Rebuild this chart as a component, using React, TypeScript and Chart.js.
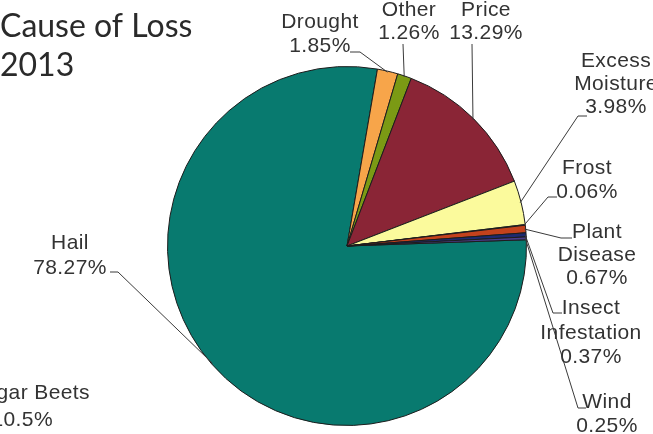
import React, { useEffect, useRef } from 'react';
import { Chart, registerables } from 'chart.js';

Chart.register(...registerables);

// ---- data ----
const categories = ['Hail', 'Drought', 'Other', 'Price', 'Excess Moisture', 'Frost', 'Plant Disease', 'Insect Infestation', 'Wind'];
const shares = [78.27, 1.85, 1.26, 13.29, 3.98, 0.06, 0.67, 0.37, 0.25];
const sliceColors = ['#087a6f', '#f7a54a', '#7b9a14', '#8a2536', '#fbfa9c', '#b8d0e8', '#c4421c', '#1e2a70', '#4b3c8c'];
const titleLines = ['Cause of Loss', '2013'];
// label of a neighbouring chart, cut by the picture's left edge
const neighbourLines = ['Sugar Beets', '10.5%'];

// ---- label layout (text centre x, line centres y, leader elbow and end) ----
const labelLayout = [
  { cx: 70, ys: [243, 268], elbow: [118, 272], end: [110, 272] },
  { cx: 320, ys: [22, 46], elbow: [360, 52], end: [350, 52] },
  { cx: 409, ys: [10, 33], elbow: [403, 44], end: [403, 44] },
  { cx: 486, ys: [10, 33], elbow: [472, 44], end: [472, 44] },
  { cx: 616, ys: [61, 84, 107], elbow: [578, 116], end: [587, 116] },
  { cx: 587, ys: [168, 192], elbow: [548, 197], end: [557, 197] },
  { cx: 597, ys: [232, 255, 278], elbow: [561, 238], end: [572, 238] },
  { cx: 591, ys: [308, 333, 357], elbow: [553, 313], end: [562, 313] },
  { cx: 607, ys: [402, 426], elbow: [578, 408], end: [586, 408] },
];

const labelFont = '21px "Liberation Sans", Arial, sans-serif';

const labelsPlugin = {
  id: 'pieLabels',
  afterDatasetsDraw(chart: any) {
    const ctx = chart.ctx as CanvasRenderingContext2D;
    const meta = chart.getDatasetMeta(0);
    ctx.save();
    // leader lines
    ctx.strokeStyle = '#3a3a3a';
    ctx.lineWidth = 1;
    meta.data.forEach((arc: any, i: number) => {
      const lay = labelLayout[i];
      if (!lay) return;
      const p = arc.getProps(['x', 'y', 'startAngle', 'endAngle', 'outerRadius'], true);
      const mid = (p.startAngle + p.endAngle) / 2;
      const sx = p.x + Math.cos(mid) * (p.outerRadius - 1);
      const sy = p.y + Math.sin(mid) * (p.outerRadius - 1);
      ctx.beginPath();
      ctx.moveTo(sx, sy);
      ctx.lineTo(lay.elbow[0], lay.elbow[1]);
      ctx.lineTo(lay.end[0], lay.end[1]);
      ctx.stroke();
    });
    // texts
    ctx.fillStyle = '#333333';
    ctx.font = labelFont;
    (ctx as any).letterSpacing = '0.4px';
    ctx.textAlign = 'center';
    ctx.textBaseline = 'middle';
    categories.forEach((name, i) => {
      const lay = labelLayout[i];
      const lines = [...name.split(' '), `${shares[i]}%`];
      lines.forEach((t, k) => ctx.fillText(t, lay.cx, lay.ys[k]));
    });
    // neighbouring chart label (clipped)
    ctx.textAlign = 'right';
    ctx.fillText(neighbourLines[0], 90, 393);
    ctx.fillText(neighbourLines[1], 53, 420);
    // title
    (ctx as any).letterSpacing = '0px';
    ctx.fillStyle = '#2a2a2a';
    ctx.font = '32px Lato, "Open Sans", sans-serif';
    ctx.textAlign = 'left';
    ctx.textBaseline = 'alphabetic';
    ctx.fillText(titleLines[0], 0, 37);
    ctx.fillText(titleLines[1], 0, 76);
    ctx.restore();
  },
};

export default function App() {
  const ref = useRef<HTMLCanvasElement | null>(null);
  useEffect(() => {
    if (!ref.current) return;
    const chart = new Chart(ref.current, {
      type: 'pie',
      data: {
        labels: categories,
        datasets: [
          {
            data: shares,
            backgroundColor: sliceColors,
            borderColor: '#1c1c1c',
            borderWidth: 1,
          },
        ],
      },
      options: {
        responsive: false,
        animation: false,
        devicePixelRatio: 1,
        rotation: 88,
        layout: { padding: { top: 66, bottom: 8, left: 167, right: 126 } },
        plugins: {
          legend: { display: false },
          tooltip: { enabled: false },
          title: { display: false },
        },
        events: [],
      },
      plugins: [labelsPlugin],
    });
    return () => chart.destroy();
  }, []);
  return (
    <div style={{ position: 'absolute', left: 0, top: 0, width: 653, height: 434, background: '#fff' }}>
      <canvas ref={ref} width={653} height={434} style={{ display: 'block', width: 653, height: 434 }} />
    </div>
  );
}
